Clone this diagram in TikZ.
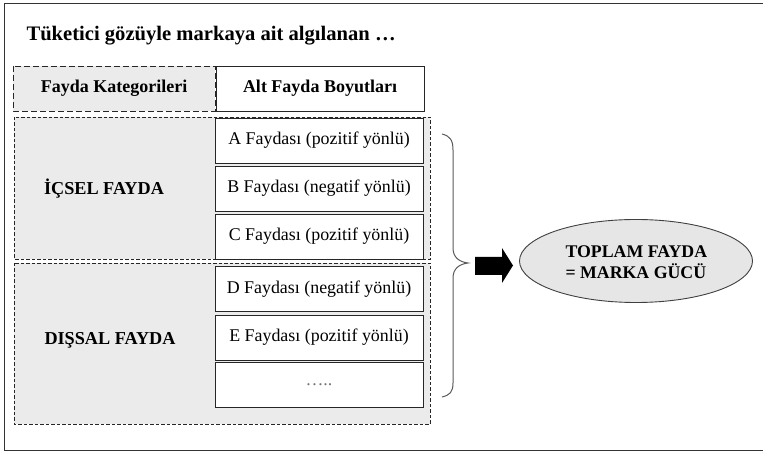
\documentclass[tikz,border=0pt]{standalone}
\usepackage{fontspec}
\setmainfont{Liberation Serif}
\usetikzlibrary{shapes.geometric}
\definecolor{panel}{HTML}{EBEBEB}
\definecolor{ellfill}{HTML}{E6E6E6}
\tikzset{
  box/.style={draw=black!85, line width=0.9pt, fill=white, font=\fontsize{17.9}{20}\selectfont},
  hdr/.style={font=\bfseries\fontsize{18}{20}\selectfont},
  grp/.style={draw=black!85, line width=0.9pt, dash pattern=on 3.5pt off 2pt, fill=panel},
  hdash/.style={draw=black!85, line width=0.9pt, dash pattern=on 6pt off 3pt, fill=panel},
  cat/.style={font=\bfseries\fontsize{18.2}{20}\selectfont},
}
\begin{document}
\begin{tikzpicture}[x=1pt,y=-1pt]
\useasboundingbox (0,0) rectangle (763,454);
\draw[black!80, line width=1pt] (4,4) rectangle (764,450.5);
\node[anchor=base west, font=\bfseries\fontsize{20.6}{22}\selectfont] (title) at (23,41) {Tüketici gözüyle markaya ait algılanan …};
% header
\path[hdash] (13,66) rectangle (215,111);
\node[hdr] (hl) at (114,88.5) {Fayda Kategorileri};
\node[box, hdr, minimum width=208pt, minimum height=45pt, inner sep=0pt] (hr) at (320,88.5) {Alt Fayda Boyutları};
% groups
\path[grp] (14,117) rectangle (430,259);
\path[grp] (14,263) rectangle (430,424);
\node[cat] (ic) at (104,189) {İÇSEL FAYDA};
\node[cat] (dis) at (110,340) {DIŞSAL FAYDA};
% sub boxes
\tikzset{sub/.style={box, minimum width=208pt, minimum height=45pt, inner sep=0pt}}
\node[sub] (a) at (319,140.5) {A Faydası (pozitif yönlü)};
\node[sub] (b) at (319,188.5) {B Faydası (negatif yönlü)};
\node[sub] (c) at (319,236.5) {C Faydası (pozitif yönlü)};
\node[sub] (d) at (319,289) {D Faydası (negatif yönlü)};
\node[sub] (e) at (319,337.5) {E Faydası (pozitif yönlü)};
\node[sub, text=black!55] (f) at (319,384.5) {…..};
% brace
\draw[black!65, line width=1pt] (442,134) .. controls (450,136) and (453,140) .. (453,150)
  -- (453,248) .. controls (453,258) and (460,262) .. (468,263)
  .. controls (460,264) and (453,268) .. (453,278)
  -- (453,383) .. controls (453,392) and (450,395) .. (442,397);
% arrow
\fill[black] (475,257) -- (502,257) -- (502,248) -- (513,265.5) -- (502,283) -- (502,275) -- (475,275) -- cycle;
% ellipse
\node[ellipse, draw=black!75, line width=0.9pt, fill=ellfill, minimum width=233pt, minimum height=83pt, inner sep=0pt] (tot) at (636,261) {};
\node[anchor=west, align=left, font=\bfseries\fontsize{17.8}{20.5}\selectfont] (totl) at (562,262) {TOPLAM FAYDA\\= MARKA GÜCÜ};
\end{tikzpicture}
\end{document}
